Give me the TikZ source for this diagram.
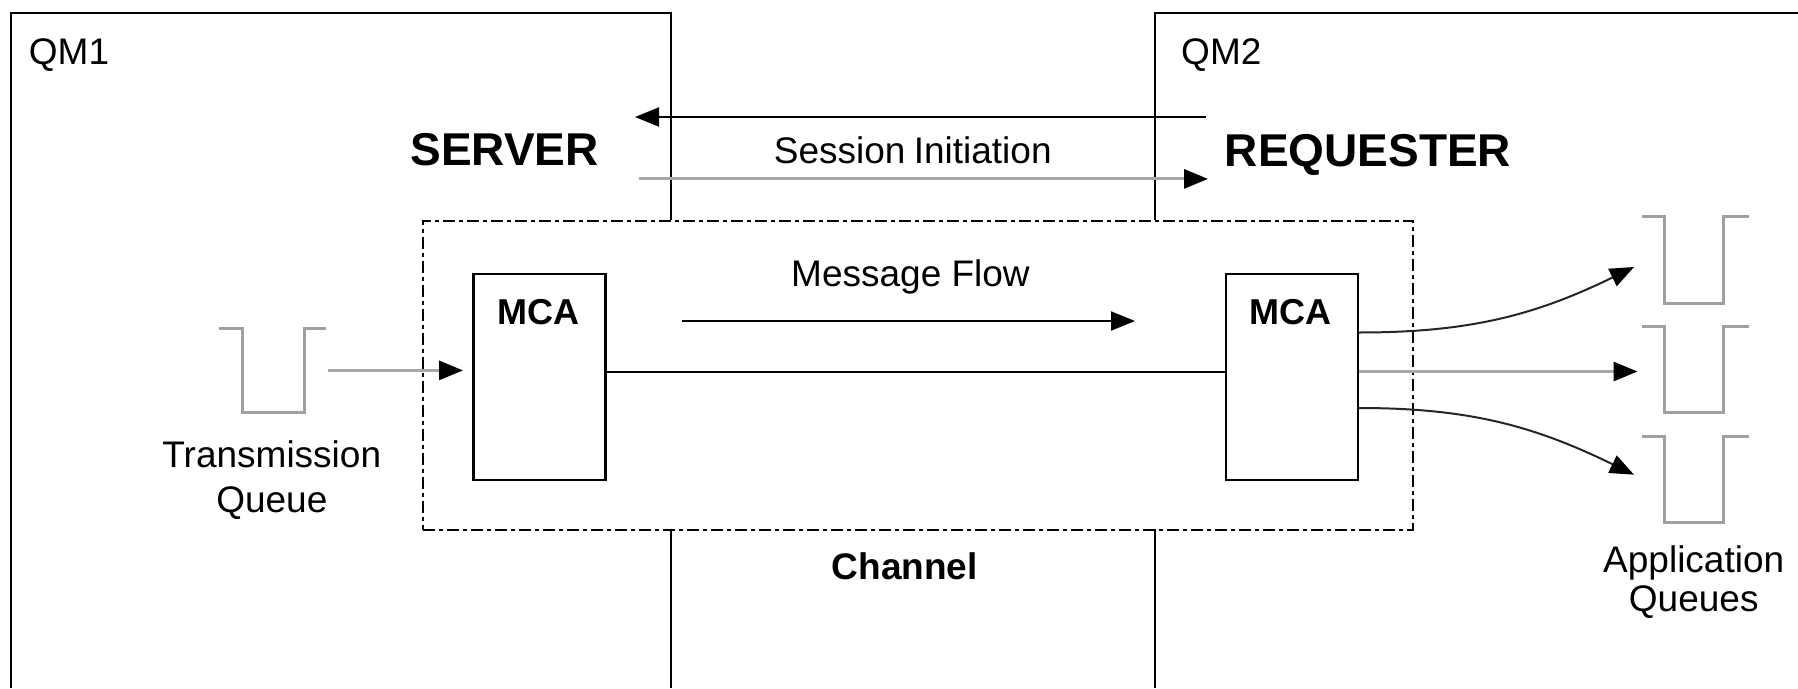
\documentclass[tikz,border=0pt]{standalone}
\usepackage{fontspec}
\setmainfont{Liberation Sans}
\usetikzlibrary{arrows.meta}
\definecolor{lgray}{HTML}{A8A8A8}
\definecolor{qgray}{HTML}{A0A0A0}
\begin{document}
\begin{tikzpicture}[x=1pt,y=-1pt,
  frame/.style={line width=2pt, black},
  chanbox/.style={draw, line width=2pt, dash pattern=on 12pt off 4pt on 4pt off 4pt, inner sep=0, anchor=north west},
  mcabox/.style={draw, line width=2.2pt, minimum width=132pt, minimum height=206pt, inner sep=0, anchor=north west},
  gq/.style={draw=qgray, line width=3pt},
  tip/.style={-{Triangle[length=24pt,width=19pt,color=black]}},
  blk/.style={line width=2pt, tip},
  gry/.style={draw=lgray, line width=3pt, tip},
  crv/.style={line width=2pt, draw=black!85, tip},
  lbl/.style={inner sep=0, anchor=base, font=\fontsize{37}{44}\selectfont},
  hdr/.style={inner sep=0, anchor=base, font=\fontsize{46}{52}\selectfont\bfseries},
  mcalbl/.style={inner sep=0, anchor=base, font=\fontsize{36}{42}\selectfont\bfseries},
]
\useasboundingbox[fill=white] (0,0) rectangle (1798,688);

% queue manager frames
\draw[frame] (11,688) -- (11,13) -- (671,13) -- (671,220);
\draw[frame] (671,528.6) -- (671,688);
\draw[frame] (1798,13) -- (1155,13) -- (1155,220);
\draw[frame] (1155,528.6) -- (1155,688);

% channel box
\node[chanbox, minimum width=989.6pt, minimum height=308.6pt] (chan) at (422,220) {};

% MCA boxes
\node[mcabox] (mcaL) at (472.4,273) {};
\node[mcabox] (mcaR) at (1224.7,273) {};
\node[mcalbl] (mcaLt) at (538.4,324) {MCA};
\node[mcalbl] (mcaRt) at (1290.6,324) {MCA};

% labels
\node[lbl, anchor=base west] (qm1) at (28.7,64.6) {QM1};
\node[lbl, anchor=base west] (qm2) at (1181,64.6) {QM2};
\node[hdr] (server) at (504.5,165.5) {SERVER};
\node[hdr] (requester) at (1368,166.5) {REQUESTER};
\node[lbl] (sess) at (912.8,163) {Session\hspace{-2pt} Initiation};
\node[lbl] (mflow) at (910.5,286) {Message Flow};
\node[lbl] (trans) at (271.8,467) {Transmission};
\node[lbl] (tqueue) at (271.8,512) {Queue};
\node[hdr, font=\fontsize{37}{44}\selectfont\bfseries] (channel) at (904.8,579.5) {Channel};
\node[lbl] (appl) at (1693.7,572.6) {Application};
\node[lbl] (aqueues) at (1693.7,611.6) {Queues};

% session initiation arrows
\coordinate (s1a) at (1206,117);
\coordinate (s1b) at (635,117);
\coordinate (s2a) at (638.7,178.9);
\coordinate (s2b) at (1208,178.9);
\draw[blk] (s1a) -- (s1b);
\draw[gry] (s2a) -- (s2b);

% message flow arrow
\coordinate (mfa) at (682,321);
\coordinate (mfb) at (1135,321);
\draw[blk] (mfa) -- (mfb);

% channel line
\coordinate (midy) at (0,371.5);
\draw[line width=2pt] (mcaL.east |- midy) -- (mcaR.west |- midy);

% transmission queue
\draw[gq] (219,328) -- (242,328) -- (242,412.8) -- (304,412.8) -- (304,328) -- (325.7,328);
\coordinate (tqout) at (328,370.4);
\coordinate (tqin) at (463,370.4);
\draw[gry] (tqout) -- (tqin);

% application queues
\foreach \t/\b in {216.7/303.9, 326.8/412.8, 436.9/522.9}{
  \draw[gq] (1642,\t) -- (1664,\t) -- (1664,\b) -- (1723.5,\b) -- (1723.5,\t) -- (1748.7,\t);
}
\coordinate (aq1) at (1634,267);
\coordinate (aq2) at (1637.5,371.5);
\coordinate (aq3) at (1634,474.7);
\draw[crv] (mcaR.east |- 0,332.5) to[out=0,in=206] (aq1);
\draw[gry] (mcaR.east |- midy) -- (aq2);
\draw[crv] (mcaR.east |- 0,408) to[out=0,in=154] (aq3);
\end{tikzpicture}
\end{document}
